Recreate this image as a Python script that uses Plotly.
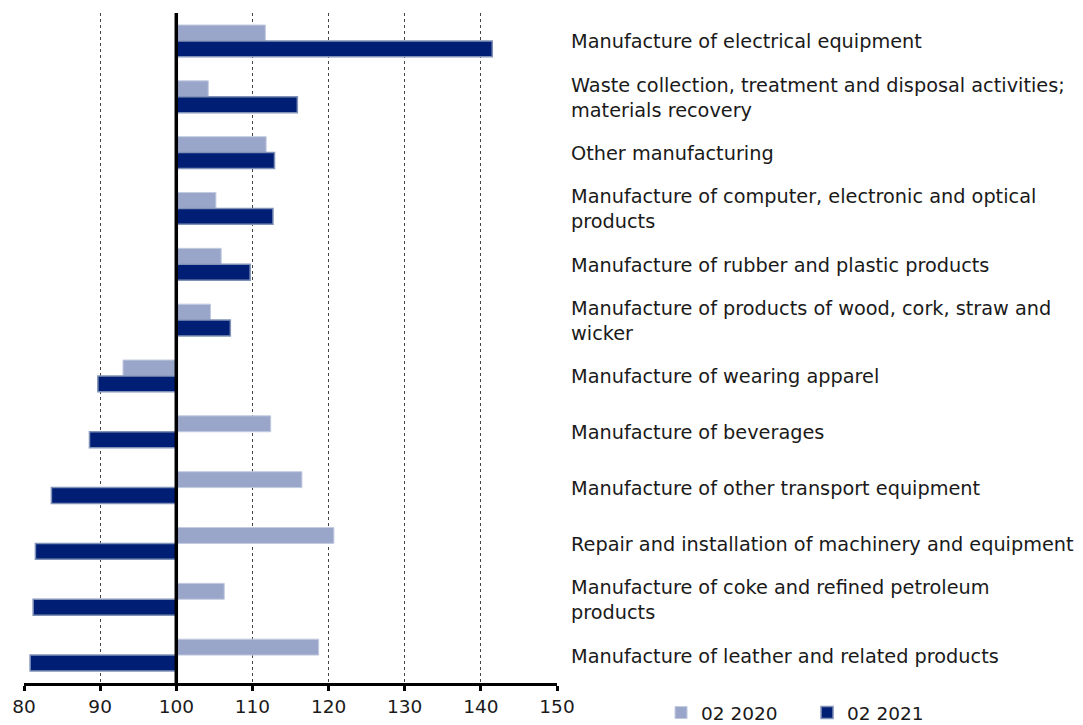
import plotly.graph_objects as go

categories = [
    "Manufacture of electrical equipment",
    "Waste collection, treatment and disposal activities;<br>materials recovery",
    "Other manufacturing",
    "Manufacture of computer, electronic and optical<br>products",
    "Manufacture of rubber and plastic products",
    "Manufacture of products of wood, cork, straw and<br>wicker",
    "Manufacture of wearing apparel",
    "Manufacture of beverages",
    "Manufacture of other transport equipment",
    "Repair and installation of machinery and equipment",
    "Manufacture of coke and refined petroleum<br>products",
    "Manufacture of leather and related products",
]
q2_2020 = [111.7, 104.2, 111.8, 105.2, 105.9, 104.5, 93.0, 112.4, 116.5, 120.7, 106.3, 118.7]
q2_2021 = [141.5, 115.9, 112.9, 112.7, 109.7, 107.1, 89.7, 88.6, 83.6, 81.5, 81.2, 80.8]
series_names = ["02 2020", "02 2021"]
x_ticks = [80, 90, 100, 110, 120, 130, 140, 150]
BASE = 100

FONT = "DejaVu Sans"
FS = 19.3
TFS = 18.5
ids = list(range(len(categories)))

fig = go.Figure()
fig.add_trace(go.Bar(
    y=ids, x=[v - BASE for v in q2_2020], base=BASE, orientation="h",
    name=series_names[0],
    marker=dict(color="#9aa6c9", line=dict(color="#c3cbe0", width=1)),
))
fig.add_trace(go.Bar(
    y=ids, x=[v - BASE for v in q2_2021], base=BASE, orientation="h",
    name=series_names[1],
    marker=dict(color="#001e73", line=dict(color="#8192b8", width=1.5)),
))

for i, c in enumerate(categories):
    fig.add_annotation(
        x=1, xref="paper", y=i, yref="y", xanchor="left", xshift=12, yshift=-1,
        text=c, showarrow=False, align="left",
        font=dict(family=FONT, size=FS, color="#1a1a1a"),
    )

fig.add_shape(type="line", xref="x", yref="paper", x0=BASE, x1=BASE, y0=0, y1=1,
              line=dict(color="black", width=3.5), layer="above")

fig.update_layout(
    width=1075, height=717,
    margin=dict(l=16, r=526, t=5, b=42, autoexpand=False),
    paper_bgcolor="white", plot_bgcolor="white",
    barmode="group", bargap=0.43, bargroupgap=0,
    font=dict(family=FONT, size=FS, color="#1a1a1a"),
    showlegend=True,
    legend=dict(orientation="h", x=1.1952, y=-0.0448, xanchor="left", yanchor="middle",
                font=dict(family=FONT, size=TFS), entrywidth=101, entrywidthmode="pixels",
                itemwidth=30, bgcolor="rgba(0,0,0,0)"),
    xaxis=dict(range=[80, 150], tickvals=x_ticks, ticktext=[str(t) for t in x_ticks],
               showgrid=True, gridcolor="#444", griddash="dot", gridwidth=1,
               showline=True, linecolor="black", linewidth=3,
               ticks="outside", ticklen=5, tickwidth=2.5, tickcolor="black",
               zeroline=False, automargin=False, tickfont=dict(family=FONT, size=TFS)),
    yaxis=dict(range=[len(categories) - 0.5, -0.5], showticklabels=False,
               showgrid=False, zeroline=False, showline=False),
)

fig.write_html("out.html")
